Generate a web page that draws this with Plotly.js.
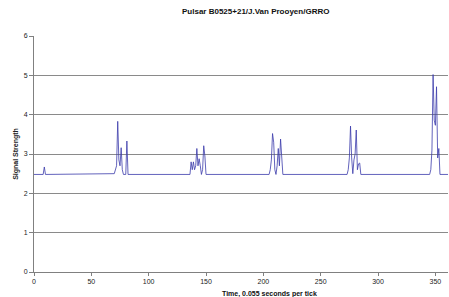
<!DOCTYPE html>
<html><head><meta charset="utf-8">
<script src="https://cdn.plot.ly/plotly-3.0.1.min.js"></script>
<style>html,body{margin:0;padding:0;background:#fff}#chart{width:449px;height:297px}</style>
</head><body><div id="chart"></div>
<script>
// Time ticks (x) and signal strength (y); baseline segments are kept as endpoints only
const timeTicks = [0, 8, 9, 10,
  70, 71, 72, 73, 74, 75, 76, 77, 78, 80, 81, 82,
  136, 137, 138, 139, 140, 141, 142, 143, 144, 145, 146, 147, 148, 149, 150,
  205, 206, 207, 208, 209, 210, 211, 212, 213, 214, 215, 216, 217,
  273, 274, 275, 276, 277, 278, 279, 280, 281, 282, 283, 284, 285,
  345, 346, 347, 348, 349, 350, 351, 352, 353, 354, 361];
const signal = [2.48, 2.48, 2.67, 2.48,
  2.5, 2.58, 2.7, 3.83, 2.85, 2.7, 3.16, 2.6, 2.48, 2.48, 3.33, 2.48,
  2.48, 2.8, 2.6, 2.8, 2.6, 2.7, 3.14, 2.7, 2.88, 2.7, 2.48, 2.6, 3.21, 2.95, 2.48,
  2.48, 2.6, 2.85, 3.52, 3.3, 2.6, 2.48, 2.7, 3.14, 2.7, 3.38, 2.8, 2.48,
  2.48, 2.6, 2.9, 3.71, 2.9, 2.5, 2.85, 3.0, 3.61, 2.6, 2.75, 2.77, 2.48,
  2.48, 2.6, 3.1, 5.02, 3.86, 3.73, 4.71, 2.9, 3.14, 2.48, 2.48];
const xTickVals = [0, 50, 100, 150, 200, 250, 300, 350];
const yTickVals = [0, 1, 2, 3, 4, 5, 6];
const chartTitle = 'Pulsar B0525+21/J.Van Prooyen/GRRO';
const xTitle = 'Time, 0.055 seconds per tick';
const yTitle = 'Signal Strength';

const font = 'Liberation Sans, Arial, sans-serif';
const trace = {
  x: timeTicks, y: signal, type: 'scatter', mode: 'lines',
  line: {color: '#3b3bab', width: 0.8}, hoverinfo: 'skip'
};
const layout = {
  width: 449, height: 297,
  margin: {l: 34, r: 1, t: 36, b: 25},
  paper_bgcolor: '#fff', plot_bgcolor: '#fff',
  showlegend: false,
  font: {family: font, size: 7, color: '#222'},
  title: {text: ''},
  xaxis: {
    range: [0, 361], tickvals: xTickVals, ticktext: xTickVals.map(String),
    showgrid: false, zeroline: false, showline: true, linecolor: '#808080', linewidth: 1,
    ticks: 'outside', ticklen: 3, tickcolor: '#808080',
    tickfont: {family: font, size: 7, color: '#222'}
  },
  yaxis: {
    range: [0, 6], tickvals: yTickVals, ticktext: yTickVals.map(String),
    showgrid: true, gridcolor: '#8a8a8a', gridwidth: 1, zeroline: false,
    showline: true, linecolor: '#808080', linewidth: 1,
    ticks: 'outside', ticklen: 4, tickcolor: '#808080',
    tickfont: {family: font, size: 7, color: '#222'},
    title: {text: yTitle, font: {family: font, size: 7, color: '#222', weight: 'bold'}, standoff: 4}
  },
  annotations: [
    {text: '<b>' + chartTitle + '</b>', xref: 'paper', yref: 'paper', x: 0.535, y: 1, yshift: 25,
     xanchor: 'center', yanchor: 'middle', showarrow: false,
     font: {family: font, size: 8, color: '#111'}},
    {text: '<b>' + xTitle + '</b>', xref: 'paper', yref: 'paper', x: 0.568, y: 0, yshift: -22,
     xanchor: 'center', yanchor: 'middle', showarrow: false,
     font: {family: font, size: 7, color: '#111'}}
  ]
};
Plotly.newPlot('chart', [trace], layout, {staticPlot: true, displayModeBar: false});
</script></body></html>
